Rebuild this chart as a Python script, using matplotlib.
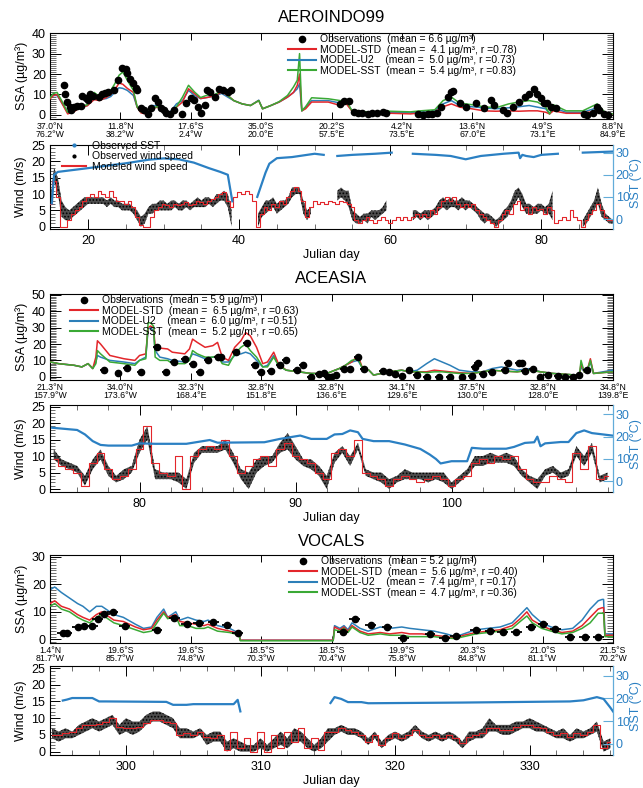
import numpy as np
import matplotlib
matplotlib.use("Agg")
import matplotlib.pyplot as plt
from matplotlib.lines import Line2D
from matplotlib.ticker import MultipleLocator

nan = np.nan
plt.rcParams["font.family"] = ["Liberation Sans", "DejaVu Sans"]
plt.rcParams["hatch.linewidth"] = 0.8

COL_STD = "#e3262b"
COL_U2 = "#2c7fb8"
COL_SSTM = "#3aa935"
COL_SSTOBS = "#2b80c3"
COL_SSTAX = "#62acd9"

# ── AEROINDO99 ────────────────────────────────────────────────────────────────
A_XLIM = (14.96, 89.5)
A_LATLON = ["37.0°N\n76.2°W", "11.8°N\n38.2°W", "17.6°S\n2.4°W", "35.0°S\n20.0°E",
            "20.2°S\n57.5°E", "4.2°N\n73.5°E", "13.6°N\n67.0°E", "4.9°S\n73.1°E",
            "8.8°N\n84.9°E"]
A_LABELS = ["Observations  (mean = 6.6 µg/m³)",
            "MODEL-STD  (mean =  4.1 µg/m³, r =0.78)",
            "MODEL-U2    (mean =  5.0 µg/m³, r =0.73)",
            "MODEL-SST  (mean =  5.4 µg/m³, r =0.83)"]
A_DAYS = [15.0, 15.4, 15.9, 16.5, 17.3, 18.1, 18.9, 19.9, 20.8, 21.5,
          22.4, 23.0, 23.5, 24.1, 24.6, 25.2, 26.0, 26.5, 27.0, 27.6,
          28.4, 29.2, 30.0, 30.9, 31.7, 32.5, 33.3, 34.1, 34.9, 36.0,
          36.8, 37.7, 38.5, 39.3, 40.4, 41.5, 42.6, 43.1, 44.2, 45.3,
          46.4, 47.2, 47.7, 48.0, 48.3, 48.8, 49.6, 51.8, 53.4, 54.2,
          55.0, 55.6, 58.0, 60.0, 62.7, 64.0, 65.9, 67.0, 68.1, 69.2,
          70.8, 72.4, 74.0, 75.7, 77.0, 78.4, 79.5, 80.6, 81.1, 81.6,
          83.3, 85.5, 87.4, 88.5, 89.5]
A_STD = [8, 9.5, 10, 6, 0.5, 1.5, 3.5, 4.5, 7.5, 7,
         8.5, 10, 12, 15.6, 15, 13, 11, 3.8, 1, 0.5,
         3, 3.8, 1.3, 0.8, 3.8, 6.3, 12.8, 10.4, 8, 8.7,
         9.5, 11.2, 9.5, 7, 5.4, 4.6, 7, 3, 4.6, 6.3,
         8.7, 11, 14.5, 20, 2, 3, 6.3, 6.3, 4.6, 5.4,
         1.6, 0.5, 0.5, 0.8, 0.5, 1, 1.5, 4, 5.4, 3.8,
         3, 2, 1.8, 2, 1.8, 2, 2, 1.3, 0.5, 2,
         0.8, 0.8, 2, 0.8, 0.5]
A_U2 = [8.5, 9.5, 9.5, 6, 1.3, 2, 4, 4.6, 8.7, 7.5,
        8, 9, 11, 13.3, 13, 12, 9.5, 3.8, 1.3, 1,
        4.6, 4.5, 2, 1.5, 5.4, 7, 12, 9.5, 8, 8.7,
        9.5, 10.5, 8.7, 7, 5.4, 4.6, 7.2, 3, 4.6, 6.3,
        8.7, 11, 12.8, 15.3, 2, 3.8, 7, 7, 5.8, 6.3,
        1.6, 1, 1, 1.2, 1, 1.5, 2, 5.4, 7, 4.6,
        4, 3.5, 3, 3.5, 4, 4.6, 3.8, 3, 0.5, 3.5,
        1.3, 1.3, 3.5, 1, 0.5]
A_SSTM = [8.5, 10.5, 11, 7, 1.3, 2, 4, 5, 11, 9,
          10, 12, 15, 19.4, 21, 17, 12, 4, 1.5, 1.2,
          3.5, 4, 1.5, 1, 4, 8.7, 14.5, 11.2, 8.5, 10,
          10, 12, 9.5, 7, 5.4, 4.6, 7, 3, 4.6, 6.5,
          9.5, 13.7, 17, 30, 2, 4, 8.4, 7.9, 7, 7,
          1.6, 1.6, 1.5, 1.8, 1.5, 2, 2.5, 7, 8.7, 5.8,
          5, 4, 3.5, 5.4, 6.3, 7, 6.3, 3.8, 0.5, 5,
          2, 2, 5.4, 1, 0.5]
A_OBS_D = [16.8, 16.9, 17.2, 17.6, 17.7, 18.2, 18.6, 19.0, 19.2, 19.7,
           20.0, 20.3, 20.7, 21.4, 21.8, 22.3, 22.7, 23.4, 24.0, 24.5,
           25.0, 25.2, 25.6, 25.9, 26.3, 26.5, 27.0, 27.4, 27.9, 28.3,
           28.9, 29.2, 29.7, 30.1, 30.3, 30.9, 31.4, 32.5, 33.0, 33.6,
           34.0, 34.5, 35.0, 35.5, 35.8, 36.2, 36.8, 37.4, 37.8, 38.5,
           38.9, 53.4, 53.9, 54.5, 55.2, 55.7, 56.3, 57.0, 57.6, 58.3,
           59.0, 59.4, 63.7, 64.3, 65.0, 65.6, 66.2, 66.7, 67.6, 68.0,
           68.3, 69.3, 70.0, 71.3, 72.4, 73.3, 73.8, 74.9, 75.5, 76.2,
           77.1, 77.8, 78.4, 79.1, 79.5, 80.0, 80.4, 80.8, 81.3, 81.9,
           85.6, 86.1, 86.9, 87.4, 87.7, 88.3, 88.9]
A_OBS_V = [14.4, 10.3, 6.5, 3.7, 2.5, 3.7, 4.4, 4.4, 9.3, 8.2,
           7.4, 10.3, 9.3, 8.9, 10.3, 10.6, 11.4, 12.0, 17.2, 22.9,
           22.4, 20.4, 17.5, 15.5, 13.0, 12.3, 3.3, 2.5, 0.3, 3.3,
           8.2, 6.5, 3.3, 2.5, 0.8, 0.5, 2.5, 0.5, 5.7, 8.2,
           7.4, 3.7, 0.8, 5.0, 12.4, 11.0, 8.7, 12.8, 12.0, 11.0,
           12.0, 5.4, 7.0, 7.0, 1.5, 1.0, 0.8, 0.5, 1.0, 0.7,
           1.5, 0.8, 0.3, 0.2, 0.3, 0.5, 1.0, 3.8, 8.7, 11.0,
           11.7, 5.7, 4.1, 5.7, 3.3, 7.4, 4.9, 2.5, 0.8, 4.1,
           6.5, 8.7, 10.3, 12.6, 10.3, 8.2, 5.7, 5.7, 4.1, 3.5,
           0.3, 0.0, 0.8, 3.7, 2.5, 0.3, 0.0]
A_OBS_HALF = 0.0
# wind: half-day samples starting at A_WIND_T0
A_WIND_T0 = 15.0
A_WMOD = [7, 14, 9, 0, 0, 2, 4, 5, 6, 8,
          9, 10, 9, 11, 10, 9, 11, 9, 8, 8,
          7, 8, 6, 3, 0.5, 0, 0, 3, 5, 6,
          7, 6.5, 6, 7, 6.5, 7, 7.5, 6.5, 7, 8,
          7.5, 7, 8, 8.5, 9, 10, 10.5, 8, 6, 9,
          10.5, 10, 11, 10, 8, 0, 4, 6, 5, 7,
          6, 8, 7, 9, 11, 12, 11, 8, 3, 6,
          8, 7, 7.5, 7, 8, 7.5, 7, 8, 7.5, 7,
          6, 2, 1, 2, 3, 2, 1, 2, 3, 2,
          1, 2, 3, 2, 3, 2, 3, 4, 3, 4,
          3, 5, 4, 6, 8, 9, 8, 9, 7, 6,
          7, 6, 7, 5, 4, 3, 2, 1, 0, 2,
          4, 5, 4, 7, 8, 5, 6, 4, 6, 5,
          5.5, 4, 6, 5, 1, 2, 3, 2, 5, 3,
          2, 0, 2, 4, 5, 7, 5, 3, 2, 2]
A_WOBS_LO = [5, 14, 10, 3, 2, 2, 3, 4, 5, 6,
             7, 7, 7, 7, 7, 6, 7, 6, 6, 5,
             5, 5, 4, 2, 0, 1, 4, 4, 5, 5,
             5, 5, 5, 6, 5, 5, 6, 5, 6, 6,
             6, 6, 7, 6, 7, 8, 8, 6, 0, nan,
             nan, nan, nan, nan, nan, 0, 3, 4, 5, 6,
             4, 5, 6, 7, 9, 10, 10, 4, 2, 4,
             nan, nan, nan, nan, nan, nan, 8, 9, 8, 6,
             2, 1, 1, 2, 1, 3, 2, 3, 4, 5,
             nan, nan, nan, nan, nan, nan, 2, 3, 2, 3,
             2, 3, 4, 5, 6, 5, 6, 6, 5, 6,
             5, 6, 5, 4, 2, 1, 2, 1, 0, 1,
             2, 3, 5, 7, 9, 6, 4, 4, 4, 4,
             5, 4, 4, 2, nan, nan, nan, nan, nan, nan,
             nan, 0, 1, 3, 5, 7, 3, 2, 1, 1]
A_WOBS_HI = [8, 18, 15, 8, 6, 5, 6, 7, 8, 9,
             9, 9, 9, 9, 9, 8, 9, 8, 8, 7,
             7, 7, 6, 5, 3, 4, 6, 7, 7, 8,
             8, 7, 8, 8, 7, 8, 8, 7, 8, 9,
             8, 9, 9, 8, 10, 10, 11, 10, 5, nan,
             nan, nan, nan, nan, nan, 4, 6, 8, 8, 9,
             7, 8, 8, 9, 12, 12, 12, 8, 5, 6,
             nan, nan, nan, nan, nan, nan, 11, 12, 11, 11,
             5, 4, 3, 4, 4, 5, 5, 5, 6, 8,
             nan, nan, nan, nan, nan, nan, 5, 5, 4, 5,
             5, 5, 6, 8, 9, 8, 9, 8, 8, 9,
             8, 8, 7, 6, 5, 4, 4, 3, 2, 3,
             5, 6, 8, 11, 12, 10, 7, 7, 6, 7,
             7, 6, 7, 11, nan, nan, nan, nan, nan, nan,
             nan, 2, 4, 6, 8, 12, 7, 4, 3, 2]
A_SST_D = [15.2, 15.5, 16.0, 20.0, 25.0, 28.0, 30.0, 32.0, 34.0, 36.0,
           37.5, 38.5, 38.8, 39.1, 40.0, 42.4, 43.0, 43.5, 44.0, 45.0,
           47.0, 50.0, 51.2, 52.0, 53.0, 55.0, 58.0, 60.2, 61.0, 63.0,
           66.0, 68.0, 70.0, 72.0, 75.0, 77.0, 77.2, 77.5, 78.0, 79.0,
           80.0, 82.2, 84.0, 85.5, 89.5]
A_SST_V = [7, 20, 21.3, 23, 25.2, 26.8, 27.4, 27, 25.5, 23,
           21.3, 20, 14, 8, nan, 10, 16, 21, 25, 27.5,
           28, 29.5, 29, nan, 28.5, 29, 29.5, 30, nan, 29.5,
           29, 28.5, 27, 28.5, 29.5, 30, 27.5, 29, 28.5, 28,
           29, 29.5, nan, 30, 30.5]

# ── ACEASIA ───────────────────────────────────────────────────────────────────
C_XLIM = (74.26, 110.35)
C_LATLON = ["21.3°N\n157.9°W", "34.0°N\n173.6°W", "32.3°N\n168.4°E", "32.8°N\n151.8°E",
            "32.8°N\n136.6°E", "34.1°N\n129.6°E", "37.5°N\n130.0°E", "32.8°N\n128.0°E",
            "34.8°N\n139.8°E"]
C_LABELS = ["Observations  (mean = 5.9 µg/m³)",
            "MODEL-STD  (mean =  6.5 µg/m³, r =0.63)",
            "MODEL-U2    (mean =  6.0 µg/m³, r =0.51)",
            "MODEL-SST  (mean =  5.2 µg/m³, r =0.65)"]
C_DAYS = [74.3, 74.8, 75.3, 75.8, 76.3, 76.7, 77.0, 77.2, 77.3, 77.5,
          78.1, 79.0, 79.7, 80.0, 80.4, 80.55, 80.7, 80.9, 81.0, 81.3,
          81.8, 82.1, 82.9, 83.2, 83.4, 83.7, 84.2, 84.7, 85.0, 85.3,
          85.7, 86.1, 86.5, 86.8, 87.1, 87.5, 87.9, 88.2, 88.6, 88.9,
          89.4, 90.2, 91.0, 92.0, 92.8, 93.2, 93.6, 94.0, 94.3, 94.7,
          95.0, 96.0, 96.8, 97.3, 97.8, 98.4, 98.9, 99.4, 99.9, 100.5,
          101.3, 102.0, 102.6, 103.2, 104.2, 105.0, 105.7, 106.5, 107.3, 108.0,
          108.2, 108.3, 108.5, 108.7, 108.9, 109.1, 110.3]
C_STD = [9, 8, 7.5, 7, 6, 8, 5, 12, 22, 20,
         13, 11, 10, 13, 14, 30, 31, 30, 18, 17.5,
         17, 15, 14, 17, 23, 21, 18, 19, 21, 12,
         10, 18, 22, 27, 25, 18, 8, 9, 15, 8,
         4, 3, 2, 2, 5, 7, 9, 13, 5, 4,
         1, 3, 4, 3, 3, 3, 4, 3.5, 3, 2.5,
         2, 3, 4, 3.5, 3, 4, 3, 2, 1.5, 1,
         1, 8, 3, 4, 11, 2, 3]
C_U2 = [9, 8, 7.5, 7, 6, 8, 5, 9, 13, 12,
        10, 9, 8, 10, 12, 29, 30, 28, 16, 12,
        11, 10, 9, 11, 14, 13, 11, 12, 12, 9,
        9, 13, 14, 15, 14, 10, 6, 7, 13, 7,
        4, 3, 2, 2, 5, 7, 9, 10, 5, 4,
        1, 3, 4, 3, 4, 8, 11, 9, 7, 4,
        3, 3, 5, 6, 4, 5, 3, 2, 1.5, 1,
        1, 6, 3, 4, 9, 2, 4]
C_SSTM = [9, 8, 7.5, 7, 6, 8, 5, 8, 16, 14,
          9, 8, 7, 10, 11, 33, 33, 31, 12, 10,
          10, 8, 8, 10, 16, 14, 12, 12, 13, 8,
          7, 14, 18, 20, 16, 12, 6, 6, 12, 7,
          4, 3, 2, 2, 5, 7, 10, 11, 5, 4,
          1, 3, 4, 3, 3, 2.5, 3, 3, 2.5, 2,
          2, 3, 4, 3.5, 3, 4, 3, 2, 1.5, 1,
          1, 10, 3, 4, 10, 2, 3]
C_OBS_D = [77.7, 78.65, 79.2, 80.1, 81.1, 81.7, 82.2, 82.9, 83.4, 83.9,
           84.4, 85.0, 85.2, 86.2, 86.9, 87.4, 87.8, 88.4, 89.0, 89.4,
           90.1, 90.5, 91.0, 91.5, 91.8, 92.1, 92.3, 92.6, 93.1, 93.5,
           94.0, 94.4, 95.6, 96.0, 96.4, 96.8, 97.3, 97.8, 98.4, 99.2,
           99.9, 100.7, 101.3, 101.5, 101.7, 102.0, 102.6, 103.4, 103.6, 104.3,
           104.5, 104.7, 105.2, 105.7, 106.2, 106.8, 107.3, 107.8, 108.2, 108.7]
C_OBS_V = [4, 2.5, 5.5, 3, 18.4, 2.7, 9, 10.6, 8, 3,
           10, 11.8, 11.8, 15.3, 20.8, 7, 3, 3.7, 7, 10.2,
           4, 7, 0, 1.6, 2.4, 0, 0, 1, 5, 4.5,
           11.8, 5, 3.7, 3, 1.4, 0.6, 4, 1, 0, 0,
           0, 0, 0.6, 5.7, 8.2, 1.4, 3, 4, 8.6, 8.2,
           8.2, 3.7, 4.5, 0, 1, 0.6, 0, 0, 1, 4]
C_OBS_HALF = 0.25
C_WIND_T0 = 74.5
C_WMOD = [9, 7, 6, 5, 1, 8, 11, 6, 3, 4,
          6, 12, 19, 8, 5, 4, 10, 0, 10, 12,
          13, 12, 15, 10, 5, 7, 9, 10, 7, 12,
          14, 10, 9, 8, 5, 3, 11, 12, 10, 15,
          5, 4, 3, 1, 3, 4, 3, 2, 3, 4,
          3, 1, 3, 4, 8, 9, 8, 10, 9, 10,
          6, 3, 2, 2, 4, 3, 2, 11, 6, 13,
          3, 4]
C_WOBS_LO = [9, 7, 6, 5, 1, 6, 9, 4, 2, 3,
             5, 11, 15, 3, 3, 3, 2, 0, 8, 11,
             11, 11, 12, 8, 3, 0, 5, 7, 8, 11,
             12, 9, 7, 6, 4, 0, 8, 11, 7, 12,
             4, 3, 2, 0, 2, 3, 3, 3, 2, 3,
             2, 0, 2, 4, 7, 7, 8, 8, 8, 7,
             4, 2, 0, 4, 5, 3, 4, 10, 7, 11,
             2, 3]
C_WOBS_HI = [12, 9, 8, 7, 4, 9, 12, 7, 4, 6,
             7, 15, 19, 6, 5, 5, 5, 3, 11, 13,
             13, 13, 15, 11, 6, 5, 9, 10, 10, 14,
             17, 13, 9, 9, 7, 4, 11, 13, 10, 14,
             6, 5, 5, 3, 4, 6, 5, 5, 5, 5,
             5, 2, 4, 6, 10, 10, 11, 10, 11, 10,
             6, 4, 3, 6, 7, 5, 6, 13, 10, 14,
             4, 5]
C_SST_D = [74.4, 76.0, 76.5, 77.0, 77.5, 78.0, 79.5, 80.0, 81.0, 83.0,
           84.5, 85.0, 88.0, 89.0, 90.3, 91.0, 92.0, 92.5, 93.0, 93.5,
           94.0, 94.3, 95.0, 96.0, 97.0, 98.0, 98.6, 99.0, 99.3, 100.0,
           101.0, 101.3, 102.0, 103.5, 104.0, 104.7, 105.3, 105.5, 105.7, 106.0,
           107.0, 107.5, 108.0, 108.5, 109.0, 110.3]
C_SST_V = [24, 23, 21, 18, 16.3, 16, 16, 17, 16.8, 16.8,
           18.5, 17.3, 17.5, 19, 20.5, 19, 19, 21, 21.2, 22.8,
           22, 19, 18, 18, 16.5, 14.5, 12, 10, 8, 9,
           9, 15, 14.6, 14.6, 15.4, 17.2, 17.5, 20, 15.7, 17,
           17.6, 17.6, 21.6, 22.8, 21.6, 20.5]

# ── VOCALS ────────────────────────────────────────────────────────────────────
V_XLIM = (294.35, 336.2)
V_LATLON = ["1.4°N\n81.7°W", "19.6°S\n85.7°W", "19.6°S\n74.8°W", "18.5°S\n70.3°W",
            "18.5°S\n70.4°W", "19.9°S\n75.8°W", "20.3°S\n84.8°W", "21.0°S\n81.1°W",
            "21.5°S\n70.2°W"]
V_LABELS = ["Observations  (mean = 5.2 µg/m³)",
            "MODEL-STD  (mean =  5.6 µg/m³, r =0.40)",
            "MODEL-U2    (mean =  7.4 µg/m³, r =0.17)",
            "MODEL-SST  (mean =  4.7 µg/m³, r =0.36)"]
V_DAYS = [294.35, 294.7, 295.2, 295.8, 296.4, 296.8, 297.3, 297.8, 298.2, 298.5,
          298.8, 299.1, 299.8, 300.7, 301.3, 301.9, 302.3, 302.8, 303.1, 303.7,
          304.0, 304.6, 305.2, 305.8, 306.1, 306.8, 307.7, 308.1, 308.4, 308.5,
          315.4, 315.5, 315.9, 316.2, 316.5, 316.8, 317.4, 318.0, 318.9, 319.6,
          320.5, 321.1, 322.0, 322.9, 323.8, 324.5, 325.1, 326.0, 326.9, 327.8,
          328.7, 329.3, 329.8, 330.2, 330.9, 331.6, 332.4, 333.2, 333.9, 334.5,
          335.1, 335.4, 335.5, 335.6, 336.2]
V_STD = [13, 14, 12, 11, 9, 8, 7, 9, 10, 9,
         8, 7, 6.5, 4.5, 3.5, 4, 7, 10, 8, 9,
         6.5, 6, 5.5, 5, 5.5, 4, 3, 2.5, 2, -0.3,
         -0.3, 4.5, 3.5, 4.5, 3, 5, 3, 2, 2.5, 2,
         2.5, 2, 2, 1.5, 1, 0.5, 1.5, 2.5, 3, 3.5,
         5, 7.5, 10, 7, 5, 3.5, 2.5, 3, 5, 8,
         11, 11.5, 11.5, 1.5, 1.5]
V_U2 = [18, 19, 17, 15, 13, 12, 10, 12, 12, 11,
        10, 9, 8, 5.5, 4, 4.5, 8, 11, 8, 10,
        7, 8, 7, 6.5, 7, 5, 4, 3, 2.5, -0.3,
        -0.3, 5, 4, 5, 3.5, 6, 4, 3, 4.5, 4,
        4.5, 4, 3.5, 3, 2, 1, 2, 3.5, 4, 4.5,
        6, 9, 11.5, 9, 6, 4.5, 3.5, 4, 7, 11,
        14, 14.5, 14.5, 2, 2]
V_SSTM = [12, 13, 11, 10, 8, 7, 6, 8, 9, 8,
          7, 6, 5, 3.5, 2.5, 3, 6, 9.5, 7.5, 8.5,
          5, 5, 4, 4, 4.5, 3, 2.5, 2, 1.5, -0.5,
          -0.5, 3.5, 3, 4, 2.5, 4.5, 2.5, 1.5, 2, 1.5,
          1.5, 1, 1, 1, 0.5, 0.3, 1, 2, 2.5, 3,
          4, 6.5, 8.5, 6, 4, 3, 2, 2.5, 4, 6,
          9.5, 9.5, 9.5, 1, 1]
V_OBS_D = [295.3, 295.6, 296.4, 296.85, 297.5, 297.9, 298.4, 299.0, 299.9, 302.3,
           303.6, 304.5, 305.4, 306.5, 307.5, 308.3, 316.1, 317.0, 318.2, 319.4,
           320.6, 322.6, 323.7, 324.5, 326.0, 327.05, 328.0, 329.0, 330.1, 331.0,
           331.9, 333.0, 334.1, 335.1]
V_OBS_V = [2.4, 2.4, 4.6, 4.8, 4.8, 7.3, 9.2, 10, 4.8, 3.4,
           7.6, 5.6, 6, 6.4, 5.2, 2.4, 2.8, 7.3, 5.2, 4.4,
           0.6, 1.8, 0.6, 1.3, 3.4, 3, 2.8, 2.8, 4.4, 5.6,
           3.6, 0.7, 0.7, 1]
V_OBS_HALF = 0.4
V_WIND_T0 = 294.5
V_WMOD = [5, 5, 5.5, 6, 7, 8, 8, 8.3, 9, 10,
          7.5, 7, 7, 7.5, 8.5, 9.5, 9.5, 9, 8.5, 5,
          5.5, 5, 6, 4.5, 4, 5, 0.5, 6, 1, 4,
          0, 6, 0, 5, 1, 6, 3, 7, 1, 4,
          0.5, 6, 6, 7, 6.5, 6, 5, 3, 5, 2,
          4, 5.5, 4, 5, 6.5, 5, 4.5, 5, 4, 5,
          4, 2.5, 4.5, 5, 5.5, 7, 7, 6.5, 6.5, 7.5,
          8, 8, 7.5, 7, 6, 5, 5.5, 4.5, 5.5, 5,
          6, 8, 1, 3]
V_WOBS_LO = [4, 3, 4, 4, 5, 6, 7, 6, 7, 8,
             5, 6, 5, 6, 8, 9, 9, 8, 7, 4,
             4, 4, 5, 2, 3, 3, 0, 1, 0, 0,
             0, 1, 0, 1, 2, 1, 3, 3, 1, 0,
             1, 3, 5, 6, 5, 5, 4, 2, 4, 1,
             3, 4, 3, 4, 6, 4, 3, 4, 3, 4,
             3, 1, 3, 4, 4, 6, 6, 5, 5, 6,
             7, 7, 6, 6, 5, 4, 4, 3, 4, 4,
             5, 6, 0, 1]
V_WOBS_HI = [7, 6, 7, 6, 8, 9, 10, 9, 10, 11,
             8, 10, 9, 9, 11, 12, 12, 11, 10, 7,
             7, 6, 7, 5, 6, 6, 3, 4, 3, 2,
             2, 4, 2, 4, 6, 4, 7, 6, 4, 2,
             4, 7, 7, 8, 7, 7, 6, 4, 6, 3,
             5, 6, 5, 6, 8, 6, 5, 6, 5, 6,
             5, 3, 6, 6, 7, 10, 8, 8, 8, 9,
             9, 10, 9, 8, 7, 6, 7, 5, 7, 6,
             7, 9, 3, 4]
V_SST_D = [295.3, 295.6, 296.0, 297.5, 298.0, 298.5, 303.0, 303.5, 304.5, 305.0,
           308.0, 308.3, 308.5, 310.0, 315.2, 315.5, 316.0, 316.5, 317.5, 318.0,
           325.0, 333.0, 334.0, 335.0, 335.5, 336.0, 336.2]
V_SST_V = [19.1, 19.5, 20.2, 20.2, 18.7, 18.7, 18.5, 17.2, 17.2, 17.5,
           17.5, 19.4, 14.3, nan, 18, 20.6, 19.8, 18.4, 18.4, 17.9,
           18.2, 18.7, 19.2, 20.6, 19.8, 16, 14.3]

FIG_W, FIG_H = 643, 788
SST_OFF, SST_SCALE = 2.35, 0.677   # wind value = SST_OFF + SST_SCALE * SST


def rect(l, t, r, b):
    return [l / FIG_W, 1 - b / FIG_H, (r - l) / FIG_W, (b - t) / FIG_H]


def draw_ssa(ax, days, std, u2, sstm, od, ov, half, xlim, ylim, ystep, latlon,
             labels, leg_xy):
    ax.plot(days, u2, color=COL_U2, lw=1.1, zorder=2)
    ax.plot(days, std, color=COL_STD, lw=1.1, zorder=3)
    ax.plot(days, sstm, color=COL_SSTM, lw=1.1, zorder=4)
    if half > 0:
        ax.errorbar(od, ov, xerr=half, fmt="o", ms=4.5, color="k",
                    elinewidth=1.3, capsize=0, zorder=5)
    else:
        ax.plot(od, ov, "o", ms=4.5, color="k", zorder=5)
    ax.set_xlim(xlim)
    ax.set_ylim(ylim)
    ax.set_yticks(np.arange(0, ylim[1] + 0.01, ystep))
    ax.yaxis.set_minor_locator(MultipleLocator(1))
    ax.tick_params(axis="y", which="major", direction="in", length=8, width=0.7,
                   left=True, right=True, labelsize=9, pad=3)
    ax.tick_params(axis="y", which="minor", direction="in", length=4.5, width=0.4,
                   left=True, right=True)
    ax.set_xticks(np.linspace(xlim[0], xlim[1], 9))
    ax.set_xticklabels(latlon, fontsize=6.3, linespacing=0.9)
    ax.tick_params(axis="x", direction="in", length=5, width=0.7, top=True,
                   bottom=True, pad=2)
    ax.set_ylabel("SSA (µg/m³)", fontsize=9, labelpad=3)
    for sp in ax.spines.values():
        sp.set_linewidth(0.8)
    handles = [Line2D([], [], marker="o", ls="none", color="k", ms=4.5),
               Line2D([], [], color=COL_STD, lw=1.5),
               Line2D([], [], color=COL_U2, lw=1.5),
               Line2D([], [], color=COL_SSTM, lw=1.5)]
    ax.legend(handles, labels, loc="upper left", bbox_to_anchor=leg_xy,
              frameon=False, fontsize=7.5, handlelength=2.7, handletextpad=0.35,
              labelspacing=0.05, borderpad=0, borderaxespad=0)


def draw_wind(ax, t0, lo, hi, mod, sst_d, sst_v, xlim, ylim, xmajor, xminor,
              legend=False):
    t = t0 + 0.5 * np.arange(len(mod))
    lo = np.array(lo, float)
    hi = np.array(hi, float)
    ok = np.isfinite(lo)
    ax.fill_between(t, np.where(ok, lo, 0), np.where(ok, hi, 0), where=ok,
                    facecolor="#4d4d4d", edgecolor="k", hatch=".....", lw=0,
                    zorder=2)
    ax.step(t, mod, where="mid", color=COL_STD, lw=0.8, zorder=3)
    ax.set_xlim(xlim)
    ax.set_ylim(ylim)
    ax.set_yticks(range(0, 26, 5))
    ax.yaxis.set_minor_locator(MultipleLocator(1))
    ax.set_xticks(xmajor)
    ax.xaxis.set_minor_locator(MultipleLocator(xminor))
    ax.tick_params(axis="both", which="major", direction="in", length=7, width=0.7,
                   labelsize=9, top=True, right=False)
    ax.tick_params(axis="both", which="minor", direction="in", length=3.5,
                   width=0.4, top=True, right=False)
    ax.tick_params(axis="x", pad=4)
    ax.set_ylabel("Wind (m/s)", fontsize=9, labelpad=3)
    ax.set_xlabel("Julian day", fontsize=9, labelpad=2)
    ax.spines["right"].set_visible(False)
    for sp in ax.spines.values():
        sp.set_linewidth(0.8)

    tw = ax.twinx()
    tw.plot(sst_d, sst_v, color=COL_SSTOBS, lw=1.6, zorder=4)
    tw.set_ylim((ylim[0] - SST_OFF) / SST_SCALE, (ylim[1] - SST_OFF) / SST_SCALE)
    tw.set_yticks([0, 10, 20, 30])
    tw.tick_params(axis="y", direction="in", length=7, width=0.8, colors=COL_SSTAX,
                   labelcolor=COL_SSTOBS, labelsize=9, pad=2)
    for name in ("left", "top", "bottom"):
        tw.spines[name].set_visible(False)
    tw.spines["right"].set_color(COL_SSTAX)
    tw.spines["right"].set_linewidth(0.9)
    tw.set_ylabel("SST (°C)", fontsize=9, color=COL_SSTOBS)
    tw.yaxis.set_label_coords(1.031, 0.55)
    if legend:
        handles = [Line2D([], [], marker=".", ls="none", color=COL_SSTOBS, ms=4),
                   Line2D([], [], marker=".", ls="none", color="k", ms=4),
                   Line2D([], [], color=COL_STD, lw=1.5)]
        tw.legend(handles, ["Observed SST", "Observed wind speed",
                            "Modeled wind speed"],
                  loc="upper left", bbox_to_anchor=(0.022, 1.05), frameon=False,
                  fontsize=7.5, handlelength=2.3, handletextpad=0.5,
                  labelspacing=0.05, borderpad=0, borderaxespad=0)


fig = plt.figure(figsize=(FIG_W / 100, FIG_H / 100), dpi=100)
xc = (50 + 613) / 2 / FIG_W

# AEROINDO99
ax = fig.add_axes(rect(50, 33, 613, 119))
draw_ssa(ax, A_DAYS, A_STD, A_U2, A_SSTM, A_OBS_D, A_OBS_V, A_OBS_HALF, A_XLIM,
         (-2, 40.1), 10, A_LATLON, A_LABELS, (0.423, 0.985))
ax = fig.add_axes(rect(50, 145, 613, 229))
draw_wind(ax, A_WIND_T0, A_WOBS_LO, A_WOBS_HI, A_WMOD, A_SST_D, A_SST_V, A_XLIM,
          (-0.7, 25.0), [20, 40, 60, 80], 5, legend=True)
fig.text(xc, 1 - 17 / FIG_H, "AEROINDO99", ha="center", va="center", fontsize=12)

# ACEASIA
ax = fig.add_axes(rect(50, 294, 613, 380))
draw_ssa(ax, C_DAYS, C_STD, C_U2, C_SSTM, C_OBS_D, C_OBS_V, C_OBS_HALF, C_XLIM,
         (-2, 50.6), 10, C_LATLON, C_LABELS, (0.036, 0.985))
ax = fig.add_axes(rect(50, 405, 613, 492))
draw_wind(ax, C_WIND_T0, C_WOBS_LO, C_WOBS_HI, C_WMOD, C_SST_D, C_SST_V, C_XLIM,
          (-0.9, 25.5), [80, 90, 100], 2)
fig.text(xc, 1 - 279 / FIG_H, "ACEASIA", ha="center", va="center", fontsize=12)

# VOCALS
ax = fig.add_axes(rect(50, 555, 613, 643))
draw_ssa(ax, V_DAYS, V_STD, V_U2, V_SSTM, V_OBS_D, V_OBS_V, V_OBS_HALF, V_XLIM,
         (-1.3, 30.6), 10, V_LATLON, V_LABELS, (0.425, 0.985))
ax = fig.add_axes(rect(50, 666, 613, 755))
draw_wind(ax, V_WIND_T0, V_WOBS_LO, V_WOBS_HI, V_WMOD, V_SST_D, V_SST_V, V_XLIM,
          (-1, 25.6), [300, 310, 320, 330], 2)
fig.text(xc, 1 - 542 / FIG_H, "VOCALS", ha="center", va="center", fontsize=12)

fig.savefig("out.png", dpi=100)
